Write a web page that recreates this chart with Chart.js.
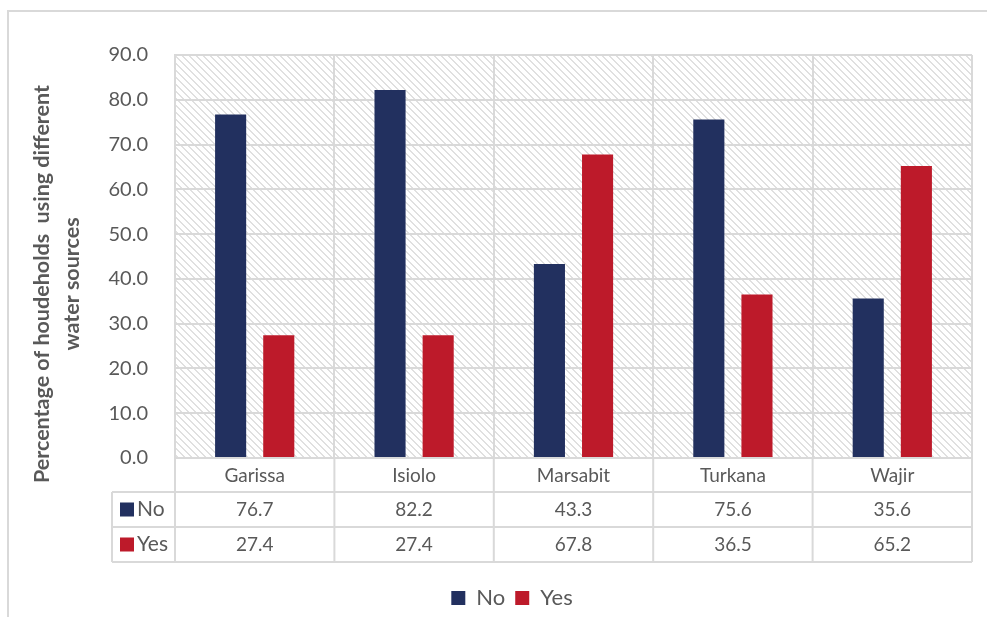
<!DOCTYPE html>
<html>
<head>
<meta charset="utf-8">
<script src="https://cdn.jsdelivr.net/npm/chart.js@4.4.1/dist/chart.umd.min.js"></script>
<style>
  html, body { margin: 0; padding: 0; background: #ffffff; }
  #wrap { width: 987px; height: 617px; position: relative; }
</style>
</head>
<body>
<div id="wrap"><canvas id="water-chart"></canvas></div>
<script>
// data
const counties = ['Garissa', 'Isiolo', 'Marsabit', 'Turkana', 'Wajir'];
const noValues = [76.7, 82.2, 43.3, 75.6, 35.6];
const yesValues = [27.4, 27.4, 67.8, 36.5, 65.2];
const seriesNames = ['No', 'Yes'];
const yTitleLines = ['Percentage of houdeholds  using different', 'water sources'];

const NAVY = '#22305f';
const RED = '#bd1a2a';
const TEXT = '#595959';
const LINE = '#d9d9d9';
const FONT = 'Lato, "Open Sans", sans-serif';

let waterChart;

document.addEventListener('DOMContentLoaded', function() {
    const ctx = document.getElementById('water-chart').getContext('2d');
    waterChart = createChart(ctx);
});

// excel style "wide downward diagonal" fill for the plot area
function makeHatch() {
    const size = 7;
    const c = document.createElement('canvas');
    c.width = size;
    c.height = size;
    const g = c.getContext('2d');
    g.fillStyle = '#ffffff';
    g.fillRect(0, 0, size, size);
    g.fillStyle = '#e0e0e0';
    for (let y = 0; y < size; y++) {
        for (let x = 0; x < size; x++) {
            if ((x - y + size) % size < 2) g.fillRect(x, y, 1, 1);
        }
    }
    return g.createPattern(c, 'repeat');
}

const backgroundPlugin = {
    id: 'background',
    beforeDraw(chart) {
        const c = chart.ctx;
        const a = chart.chartArea;
        c.save();
        c.fillStyle = '#ffffff';
        c.fillRect(0, 0, chart.width, chart.height);
        // outer frame (top and left edges only are visible)
        c.strokeStyle = LINE;
        c.lineWidth = 2;
        c.beginPath();
        c.moveTo(8, chart.height);
        c.lineTo(8, 11);
        c.lineTo(chart.width, 11);
        c.stroke();
        c.fillStyle = makeHatch();
        c.fillRect(a.left, a.top, a.right - a.left, a.bottom - a.top);
        c.restore();
    }
};

const yTitlePlugin = {
    id: 'yTitle',
    afterDraw(chart) {
        const c = chart.ctx;
        c.save();
        c.fillStyle = TEXT;
        c.font = 'bold 21.5px ' + FONT;
        c.textAlign = 'center';
        c.textBaseline = 'middle';
        const xs = [42, 72];
        yTitleLines.forEach(function(line, i) {
            c.save();
            c.translate(xs[i], 284);
            c.rotate(-Math.PI / 2);
            c.fillText(line, 0, 0);
            c.restore();
        });
        c.restore();
    }
};

// data table under the x axis
const dataTablePlugin = {
    id: 'dataTable',
    afterDraw(chart) {
        const c = chart.ctx;
        const x = chart.scales.x;
        const a = chart.chartArea;
        const colW = (a.right - a.left) / counties.length;
        const rowH = 35;
        const headTop = a.bottom;
        const row1 = headTop + 34;
        const labelLeft = 112;
        const rows = [noValues, yesValues];
        const colors = [NAVY, RED];

        c.save();
        c.strokeStyle = LINE;
        c.lineWidth = 2;
        c.beginPath();
        for (let r = 0; r <= rows.length; r++) {
            const y = row1 + r * rowH;
            c.moveTo(labelLeft, y);
            c.lineTo(a.right, y);
        }
        for (let i = 0; i <= counties.length; i++) {
            const cx = a.left + i * colW;
            c.moveTo(cx, headTop);
            c.lineTo(cx, row1 + rows.length * rowH);
        }
        c.moveTo(labelLeft, row1);
        c.lineTo(labelLeft, row1 + rows.length * rowH);
        c.stroke();

        c.textBaseline = 'middle';
        rows.forEach(function(vals, r) {
            const cy = row1 + r * rowH + rowH / 2;
            c.fillStyle = colors[r];
            c.fillRect(120, cy - 7, 14, 14);
            c.fillStyle = TEXT;
            c.textAlign = 'left';
            c.font = '21px ' + FONT;
            c.fillText(seriesNames[r], 137, cy);
            c.font = '19px ' + FONT;
            c.textAlign = 'center';
            vals.forEach(function(v, i) {
                c.fillText(v.toFixed(1), x.getPixelForValue(i), cy);
            });
        });
        c.restore();
    }
};

function createChart(ctx) {
    return new Chart(ctx, {
        type: 'bar',
        data: {
            labels: counties,
            datasets: [{
                label: seriesNames[0],
                data: noValues,
                backgroundColor: NAVY,
                categoryPercentage: 0.604,
                barPercentage: 0.646
            }, {
                label: seriesNames[1],
                data: yesValues,
                backgroundColor: RED,
                categoryPercentage: 0.604,
                barPercentage: 0.646
            }]
        },
        plugins: [backgroundPlugin, yTitlePlugin, dataTablePlugin],
        options: {
            responsive: true,
            maintainAspectRatio: false,
            animation: false,
            layout: {
                padding: { top: 55, right: 15, left: 52, bottom: -2 }
            },
            plugins: {
                tooltip: { enabled: false },
                legend: {
                    position: 'bottom',
                    labels: {
                        color: TEXT,
                        font: { family: FONT, size: 22 },
                        boxWidth: 14,
                        boxHeight: 14,
                        padding: 10
                    }
                }
            },
            scales: {
                x: {
                    afterFit: function(scale) { scale.height = 119; },
                    grid: { color: LINE, lineWidth: 2, drawTicks: false },
                    border: { color: LINE, width: 2 },
                    ticks: {
                        color: TEXT,
                        font: { family: FONT, size: 19 },
                        padding: 6
                    }
                },
                y: {
                    min: 0,
                    max: 90,
                    afterFit: function(scale) { scale.width = 123; },
                    grid: { color: LINE, lineWidth: 2, drawTicks: false },
                    border: { color: LINE, width: 2 },
                    ticks: {
                        stepSize: 10,
                        color: TEXT,
                        font: { family: FONT, size: 20 },
                        padding: 27,
                        callback: function(v) { return v.toFixed(1); }
                    }
                }
            }
        }
    });
}
</script>
</body>
</html>
